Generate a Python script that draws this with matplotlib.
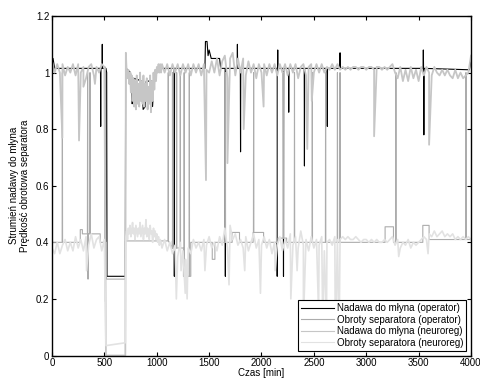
import numpy as np
import matplotlib
matplotlib.use('Agg')
import matplotlib.pyplot as plt
from matplotlib.ticker import FormatStrFormatter

plt.rcParams['font.family'] = ['Liberation Sans', 'DejaVu Sans']

labels = ['Nadawa do młyna (operator)', 'Obroty separatora (operator)',
          'Nadawa do młyna (neuroreg)', 'Obroty separatora (neuroreg)']

# --- Nadawa do mlyna (operator): knots + spikes
nad_op_t = [0, 10, 25, 515, 522, 525, 700, 703, 708, 750, 765, 772, 780, 860, 870,
            890, 900, 950, 960, 975, 1000, 1460, 1465, 1480, 1490, 1500, 1520,
            1600, 1610, 3985, 4000]
nad_op_v = [1.04, 1.05, 1.015, 1.015, 1.0, 0.28, 0.28, 1.0, 1.015, 1.0, 0.89, 0.9, 0.98,
            0.97, 0.87, 0.88, 0.97, 0.97, 0.88, 0.98, 1.015, 1.015, 1.11, 1.11, 1.06,
            1.08, 1.05, 1.05, 1.015, 1.01, 1.05]
nad_op_spikes = [(465, 0.81), (480, 1.10), (1168, 0.28), (1655, 0.28), (1770, 1.10),
                 (1800, 0.72), (2150, 0.28), (2155, 1.08), (2210, 0.28), (2260, 0.86),
                 (2410, 0.67), (2628, 0.81), (2750, 1.07), (3545, 1.08), (3550, 0.78)]

# --- Obroty separatora (operator): step levels + spikes
obr_op_edges = [0, 270, 290, 460, 520, 700, 1150, 1255, 1325, 1530, 1555, 1720, 1790,
                1920, 2020, 2160, 2240, 3180, 3260, 3540, 3600, 4000]
obr_op_levels = [0.40, 0.445, 0.43, 0.40, 0.27, 0.405, 0.38, 0.28, 0.40, 0.34, 0.40,
                 0.435, 0.40, 0.435, 0.40, 0.415, 0.40, 0.455, 0.40, 0.46, 0.41]
obr_op_spikes = [(99, 1.0), (340, 1.0), (344, 0.27), (363, 1.0), (507, 1.02), (510, 0.19),
                 (1110, 1.0), (1150, 1.0), (1190, 1.0), (1225, 1.0), (1262, 1.0),
                 (1311, 1.0), (1655, 1.0), (1925, 1.0), (2145, 1.0), (2210, 1.0),
                 (2315, 1.0), (2485, 1.0), (2612, 1.0), (2725, 1.0), (2750, 1.0),
                 (3283, 1.0), (3952, 1.0)]

# --- neuroreg series: three sampled segments + gap
t_seg1 = np.arange(0, 501, 25)
t_gap = [515, 700]
t_seg2 = np.arange(705, 1042, 8)
t_seg3 = np.arange(1050, 4001, 25)

nad_nr_seg1 = [1.04, 1.0, 1.03, 1.0, 1.03, 0.99, 1.02, 1.0, 1.03, 0.99, 1.03, 1.0,
               1.02, 0.98, 1.02, 1.03, 0.99, 1.02, 1.0, 1.03, 1.02]
nad_nr_gap = [0.0, 0.0]
nad_nr_seg2 = [1.07, 1.0, 0.98, 1.01, 0.96, 1.0, 0.93, 0.99, 0.9, 0.98, 0.88, 0.97, 0.87,
               0.99, 0.89, 0.96, 0.88, 1.0, 0.9, 0.97, 0.89, 0.99, 0.88, 0.96, 0.9, 0.98,
               0.87, 0.95, 0.89, 0.99, 0.86, 0.97, 0.9, 1.0, 0.94, 1.01, 0.97, 1.02, 1.0,
               1.03, 1.0, 1.03, 1.0]
nad_nr_seg3 = [1.03, 1.0, 1.03, 0.99, 1.03, 1.0, 1.03, 0.99, 1.03, 1.0,
               1.03, 0.99, 1.03, 1.0, 1.03, 0.99, 1.03, 1.01, 1.0, 1.04,
               1.0, 1.05, 0.99, 1.04, 1.06, 0.98, 1.05, 1.07, 0.99, 1.05,
               1.0, 1.05, 0.99, 1.04, 1.0, 1.03, 0.98, 1.03, 1.0, 1.03,
               0.99, 1.03, 1.0, 1.03, 0.99, 1.03, 1.0, 1.03, 0.99, 1.03,
               1.0, 1.03, 0.98, 1.02, 1.03, 0.99, 1.02, 1.03, 1.0, 1.03,
               1.0, 1.03, 1.0, 1.02, 1.01, 1.03, 1.01, 1.03, 1.01, 1.02,
               1.01, 1.02, 1.01, 1.02, 1.02, 1.01, 1.02, 1.02, 1.01, 1.02,
               1.02, 1.01, 1.02, 1.02, 1.01, 1.02, 1.01, 1.02, 1.03, 1.0,
               0.98, 1.02, 0.97, 1.01, 0.97, 1.02, 0.98, 1.01, 0.97, 1.02,
               0.99, 1.02, 1.0, 0.99, 1.02, 1.0, 0.99, 1.01, 0.99, 1.01,
               0.99, 0.98, 1.01, 0.98, 1.0, 0.98, 0.99, 1.0, 1.06]
nad_nr_dips = [(99, 0.77), (258, 0.76), (300, 0.95), (410, 0.96), (1470, 0.62),
               (1675, 0.68), (1830, 0.8), (2020, 0.88), (2437, 0.73), (2480, 0.9),
               (3075, 0.775), (3600, 0.745)]

obr_nr_seg1 = [0.38, 0.36, 0.4, 0.36, 0.39, 0.41, 0.37, 0.4, 0.37, 0.42, 0.38, 0.41,
               0.37, 0.42, 0.39, 0.43, 0.38, 0.41, 0.42, 0.37, 0.41]
obr_nr_gap = [0.035, 0.045]
obr_nr_seg2 = [0.42, 0.44, 0.41, 0.45, 0.43, 0.46, 0.42, 0.44, 0.47, 0.43, 0.45, 0.41,
               0.46, 0.44, 0.42, 0.45, 0.43, 0.47, 0.42, 0.44, 0.46, 0.41, 0.45, 0.43,
               0.48, 0.42, 0.45, 0.44, 0.41, 0.46, 0.43, 0.44, 0.40, 0.45, 0.42, 0.44,
               0.41, 0.43, 0.40, 0.42, 0.39, 0.41, 0.40]
obr_nr_seg3 = [0.38, 0.41, 0.37, 0.4, 0.36, 0.39, 0.35, 0.4, 0.37, 0.34,
               0.38, 0.36, 0.41, 0.38, 0.4, 0.37, 0.41, 0.39, 0.42, 0.38,
               0.4, 0.37, 0.42, 0.39, 0.45, 0.38, 0.46, 0.41, 0.43, 0.39,
               0.41, 0.38, 0.42, 0.37, 0.4, 0.43, 0.38, 0.41, 0.39, 0.42,
               0.38, 0.41, 0.36, 0.4, 0.39, 0.42, 0.37, 0.41, 0.38, 0.43,
               0.39, 0.42, 0.38, 0.44, 0.39, 0.41, 0.37, 0.42, 0.38, 0.41,
               0.39, 0.42, 0.37, 0.4, 0.41, 0.39, 0.42, 0.41, 0.41, 0.42,
               0.41, 0.42, 0.41, 0.41, 0.42, 0.41, 0.4, 0.41, 0.41, 0.4,
               0.41, 0.4, 0.41, 0.4, 0.4, 0.41, 0.4, 0.41, 0.42, 0.39,
               0.41, 0.38, 0.4, 0.39, 0.41, 0.38, 0.4, 0.39, 0.4, 0.41,
               0.42, 0.41, 0.43, 0.42, 0.44, 0.42, 0.43, 0.44, 0.42, 0.43,
               0.42, 0.43, 0.41, 0.42, 0.41, 0.42, 0.41, 0.42, 0.41]
obr_nr_dips = [(330, 0.3), (1187, 0.2), (1232, 0.3), (1272, 0.22), (1290, 0.2),
               (1460, 0.3), (1690, 0.25), (1840, 0.3), (1990, 0.22), (2130, 0.3),
               (2280, 0.2), (2340, 0.3), (2400, 0.12), (2545, 0.15), (2585, 0.1),
               (2620, 0.12), (2705, 0.05), (2740, 0.03), (3310, 0.35), (3590, 0.36)]


def merge(t, y, pts, level=None):
    t = list(t)
    y = list(y)
    for tp, yp in pts:
        if level is not None:
            lv = level(tp) if callable(level) else level
            t += [tp - 2, tp, tp + 2]
            y += [lv, yp, lv]
        else:
            t.append(tp)
            y.append(yp)
    order = np.argsort(t, kind='stable')
    return np.array(t)[order], np.array(y)[order]


def step_level(tp):
    i = np.searchsorted(obr_op_edges, tp, side='right') - 1
    return obr_op_levels[i]


t1, y1 = merge(nad_op_t, nad_op_v, nad_op_spikes, level=1.015)

st, sv = [], []
for i, lv in enumerate(obr_op_levels):
    st += [obr_op_edges[i], obr_op_edges[i + 1]]
    sv += [lv, lv]
t2, y2 = merge(st, sv, obr_op_spikes, level=step_level)

t_nr = np.concatenate([t_seg1, t_gap, t_seg2, t_seg3])
t3, y3 = merge(t_nr, nad_nr_seg1 + nad_nr_gap + nad_nr_seg2 + nad_nr_seg3, nad_nr_dips)
t4, y4 = merge(t_nr, obr_nr_seg1 + obr_nr_gap + obr_nr_seg2 + obr_nr_seg3, obr_nr_dips)

fig = plt.figure(figsize=(4.81, 3.78), dpi=100)
ax = fig.add_axes([0.1081, 0.0595, 0.8711, 0.8981])

ax.plot(t1, y1, color='black', lw=0.8, label=labels[0])
ax.plot(t2, y2, color='#acacac', lw=0.8, label=labels[1])
ax.plot(t3, y3, color='#c6c6c6', lw=1.3, label=labels[2])
ax.plot(t4, y4, color='#e2e2e2', lw=1.2, label=labels[3])

ax.set_xlim(0, 4000)
ax.set_ylim(0, 1.2)
ax.set_xticks(np.arange(0, 4001, 500))
ax.set_yticks(np.arange(0, 1.21, 0.2))
ax.yaxis.set_major_formatter(FormatStrFormatter('%g'))
ax.tick_params(direction='in', top=True, right=True, length=3, width=0.8,
               labelsize=7, pad=2)
for s in ax.spines.values():
    s.set_linewidth(1.0)

ax.set_xlabel('Czas [min]', fontsize=7, labelpad=0)
ax.set_ylabel('Strumień nadawy do młyna\nPrędkość obrotowa separatora', fontsize=7,
              labelpad=4, linespacing=1.1)

leg = ax.legend(loc='lower right', fontsize=7, frameon=True, fancybox=False,
                framealpha=1, edgecolor='black', handlelength=3.4, handletextpad=0.3,
                labelspacing=0.15, borderpad=0.3, borderaxespad=0.5)
leg.get_frame().set_linewidth(0.8)
for h in leg.get_lines():
    h.set_linewidth(0.8)

fig.savefig('out.png', dpi=100)
